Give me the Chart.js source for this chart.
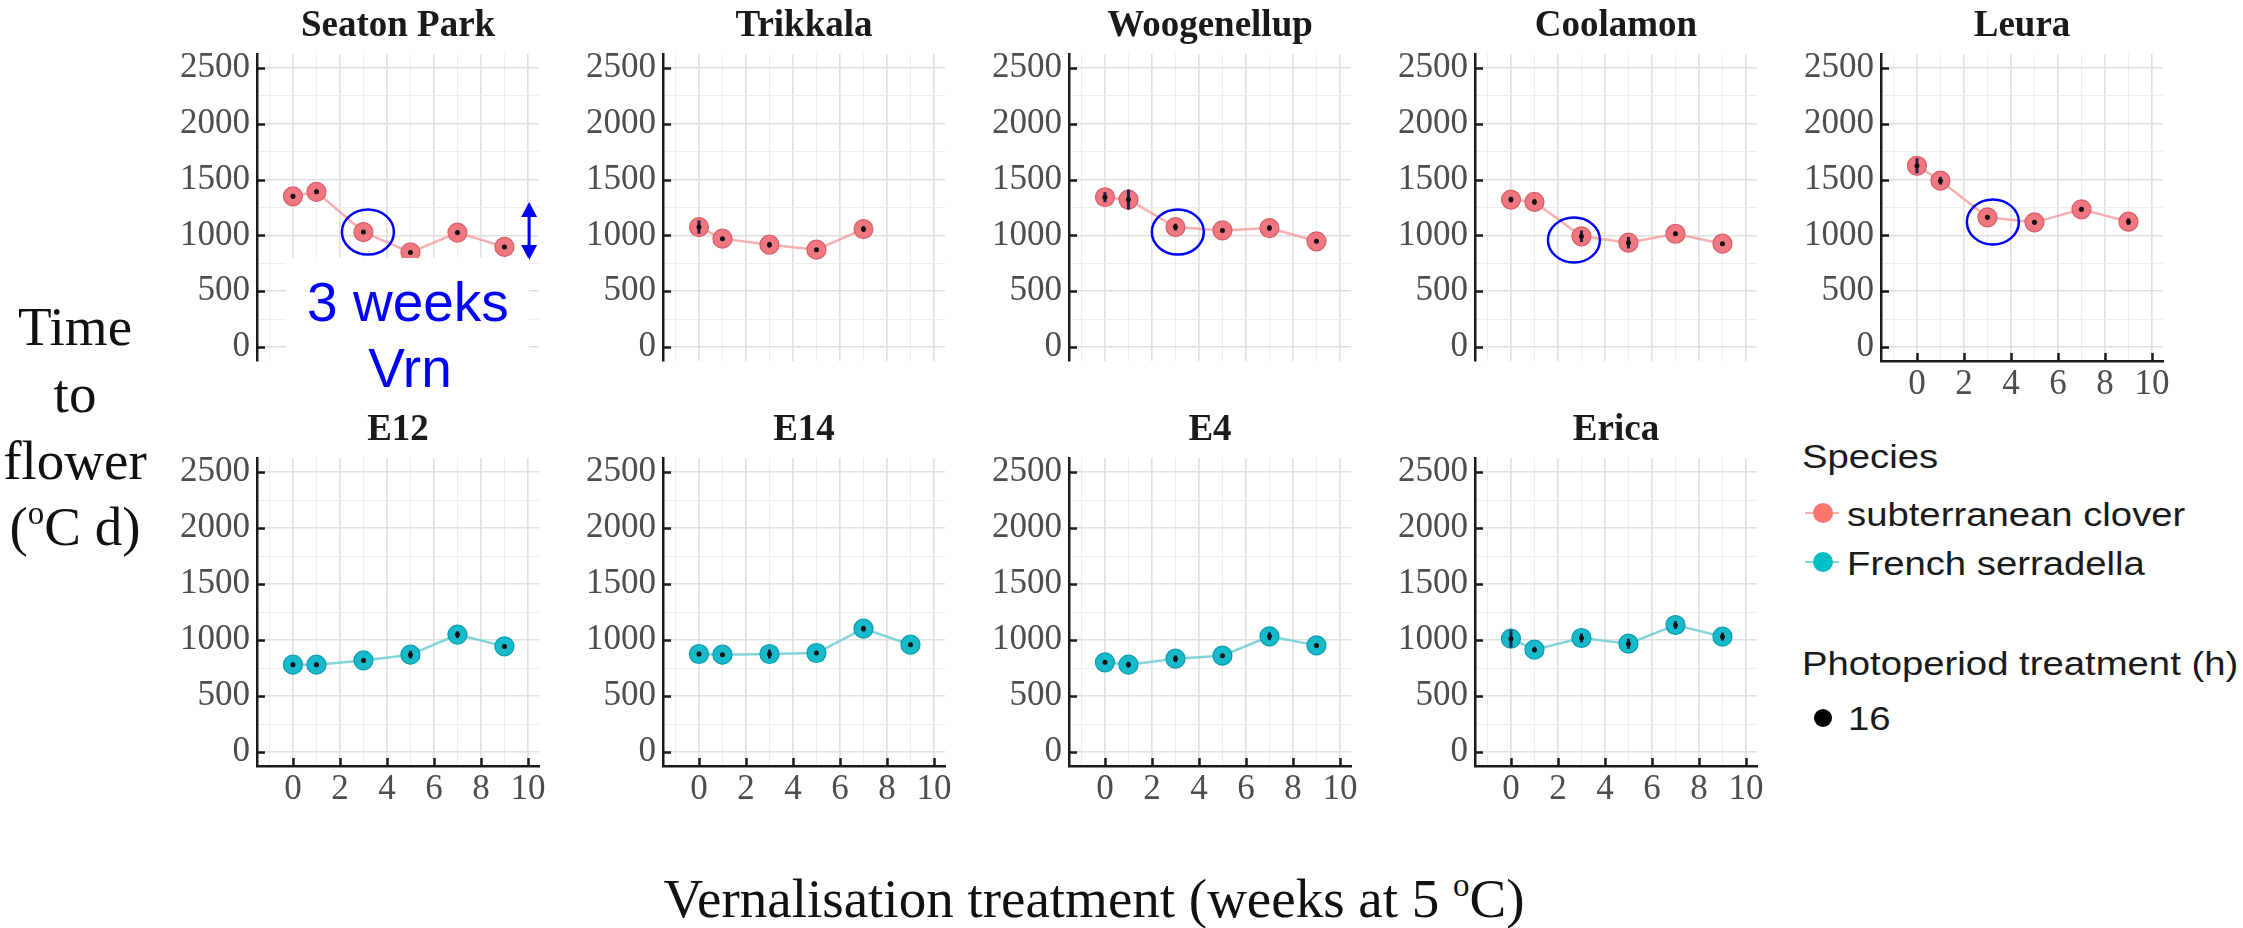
<!DOCTYPE html>
<html>
<head>
<meta charset="utf-8">
<script src="https://cdn.jsdelivr.net/npm/chart.js@4.4.0/dist/chart.umd.min.js"></script>
<style>
html, body { margin: 0; padding: 0; background: #fff; }
#page { position: relative; width: 2243px; height: 928px; overflow: hidden; background: #fff; }
#page canvas { position: absolute; }
.txt { position: absolute; white-space: nowrap; color: #111; }
.sup { font-size: 0.6em; position: relative; top: -0.62em; }
</style>
</head>
<body>
<div id="page"></div>
<script>
// vernalisation weeks at 5 oC (x values)
var weeks = [0, 1, 3, 5, 7, 9];
var panelNames = ["Seaton Park", "Trikkala", "Woogenellup", "Coolamon", "Leura", "E12", "E14", "E4", "Erica"];
var speciesNames = ["subterranean clover", "French serradella"];
var panelSpecies = [0, 0, 0, 0, 0, 1, 1, 1, 1];
var photoperiods = ["16"];

// time to flower (oC d)
var seatonPark  = [1350, 1390, 1030, 848, 1025, 897];
var trikkala    = [1075, 971, 917, 872, 1057];
var woogenellup = [1342, 1321, 1075, 1045, 1066, 947];
var coolamon    = [1321, 1300, 992, 935, 1015, 926];
var leura       = [1624, 1490, 1162, 1117, 1234, 1123];
var e12         = [780, 780, 818, 869, 1048, 943];
var e14         = [875, 869, 875, 884, 1101, 958];
var e4          = [801, 780, 833, 860, 1033, 952];
var erica       = [1012, 914, 1018, 967, 1134, 1030];

// half length of the error bars
var seatonParkErr  = [20, 20, 15, 15, 15, 10];
var trikkalaErr    = [60, 15, 25, 10, 25];
var woogenellupErr = [45, 90, 30, 10, 25, 15];
var coolamonErr    = [25, 25, 52, 52, 20, 15];
var leuraErr       = [67, 35, 20, 20, 20, 30];
var e12Err         = [20, 20, 20, 35, 30, 20];
var e14Err         = [20, 15, 40, 15, 25, 10];
var e4Err          = [10, 25, 30, 15, 35, 15];
var ericaErr       = [80, 25, 40, 45, 35, 35];

var panelValues = [seatonPark, trikkala, woogenellup, coolamon, leura, e12, e14, e4, erica];
var panelErrors = [seatonParkErr, trikkalaErr, woogenellupErr, coolamonErr, leuraErr, e12Err, e14Err, e4Err, ericaErr];

// tick values and labels (odd weeks and 250s are minor grid lines)
var xTicks = [-1, 0, 1, 2, 3, 4, 5, 6, 7, 8, 9, 10];
var xTickLabels = ["", "0", "", "2", "", "4", "", "6", "", "8", "", "10"];
var yTicks = [0, 250, 500, 750, 1000, 1250, 1500, 1750, 2000, 2250, 2500];
var yTickLabels = ["0", "", "500", "", "1000", "", "1500", "", "2000", "", "2500"];

// circled 3 week points and the range arrow
var rings = {"Seaton Park": [3.19, 1030], "Woogenellup": [3.1, 1030], "Coolamon": [2.68, 959], "Leura": [3.23, 1120]};
var rangeArrow = {"Seaton Park": [10.05, 1300, 780]};

var fills = ["#F0767F", "#17BACA"];
var rims = ["#D65F6B", "#0A9CB0"];
var lines = ["rgba(244,150,150,0.75)", "rgba(110,205,212,0.85)"];

var axisLeft = [257, 663, 1069, 1475, 1881];
var rowTop = [0, 404];
var page = document.getElementById("page");

var panelMarks = {
    id: "panelMarks",
    afterDatasetDraw: function(chart, args, opts) {
        if (args.index !== 0) return;
        var ctx = chart.ctx, xs = chart.scales.x, ys = chart.scales.y;
        var vals = chart.data.datasets[0].data;
        ctx.save();
        ctx.strokeStyle = "#22204a";
        ctx.lineWidth = 3;
        for (var i = 0; i < vals.length; i++) {
            var px = xs.getPixelForValue(vals[i].x);
            ctx.beginPath();
            ctx.moveTo(px, ys.getPixelForValue(vals[i].y - opts.errors[i]));
            ctx.lineTo(px, ys.getPixelForValue(vals[i].y + opts.errors[i]));
            ctx.stroke();
        }
        ctx.restore();
    },
    afterDraw: function(chart, args, opts) {
        var ctx = chart.ctx, xs = chart.scales.x, ys = chart.scales.y, a = chart.chartArea;
        ctx.save();
        ctx.strokeStyle = "#1a1a1a";
        ctx.lineWidth = 2.5;
        // ticks drawn inward from the axis lines
        for (var i = 0; i < yTicks.length; i++) {
            if (!yTickLabels[i]) continue;
            var py = Math.round(ys.getPixelForValue(yTicks[i])) + 0.5;
            ctx.beginPath(); ctx.moveTo(a.left, py); ctx.lineTo(a.left + 8, py); ctx.stroke();
        }
        if (opts.showX) {
            for (var j = 0; j < xTicks.length; j++) {
                if (!xTickLabels[j]) continue;
                var px = Math.round(xs.getPixelForValue(xTicks[j])) + 0.5;
                ctx.beginPath(); ctx.moveTo(px, a.bottom); ctx.lineTo(px, a.bottom - 8); ctx.stroke();
            }
        }
        ctx.strokeStyle = "#0000FF";
        ctx.fillStyle = "#0000FF";
        if (opts.ring) {
            ctx.lineWidth = 2.5;
            ctx.beginPath();
            ctx.ellipse(xs.getPixelForValue(opts.ring[0]), ys.getPixelForValue(opts.ring[1]), 26, 22.5, 0, 0, Math.PI * 2);
            ctx.stroke();
        }
        if (opts.arrow) {
            var ax = xs.getPixelForValue(opts.arrow[0]);
            var y1 = ys.getPixelForValue(opts.arrow[1]), y2 = ys.getPixelForValue(opts.arrow[2]);
            ctx.lineWidth = 3;
            ctx.beginPath(); ctx.moveTo(ax, y1 + 10); ctx.lineTo(ax, y2 - 10); ctx.stroke();
            ctx.beginPath(); ctx.moveTo(ax, y1); ctx.lineTo(ax - 8, y1 + 15); ctx.lineTo(ax + 8, y1 + 15); ctx.closePath(); ctx.fill();
            ctx.beginPath(); ctx.moveTo(ax, y2); ctx.lineTo(ax - 8, y2 - 15); ctx.lineTo(ax + 8, y2 - 15); ctx.closePath(); ctx.fill();
        }
        ctx.restore();
    }
};

function gridColor(labels) {
    return function(c) { return labels[c.index] ? "#E0E0E0" : "#EDEDED"; };
}
function gridWidth(labels) {
    return function(c) { return labels[c.index] ? 1.6 : 1; };
}

function createPanel(i) {
    var col = i < 5 ? i : i - 5;
    var row = i < 5 ? 0 : 1;
    var showX = i >= 4;
    var sp = panelSpecies[i];
    var vals = panelValues[i];
    var pts = [];
    for (var k = 0; k < vals.length; k++) pts.push({x: weeks[k], y: vals[k]});

    var canvas = document.createElement("canvas");
    canvas.width = 384;
    canvas.height = row === 0 ? 411 : 412;
    canvas.style.left = (axisLeft[col] - 90) + "px";
    canvas.style.top = rowTop[row] + "px";
    page.appendChild(canvas);

    return new Chart(canvas, {
        type: "line",
        data: {
            datasets: [{
                label: speciesNames[sp],
                data: pts,
                order: 1,
                borderColor: lines[sp],
                borderWidth: 2.5,
                pointRadius: 9.5,
                pointBackgroundColor: fills[sp],
                pointBorderColor: rims[sp],
                pointBorderWidth: 1.2,
                tension: 0
            }, {
                label: photoperiods[0],
                data: pts,
                order: 0,
                showLine: false,
                pointRadius: 2.5,
                pointBorderWidth: 0,
                pointBackgroundColor: "#111"
            }]
        },
        options: {
            responsive: false,
            animation: false,
            events: [],
            layout: {padding: {left: 0, right: 12, top: 0, bottom: 0}, autoPadding: false},
            plugins: {
                legend: {display: false},
                tooltip: {enabled: false},
                title: {
                    display: true,
                    text: panelNames[i],
                    fullSize: false,
                    color: "#1a1a1a",
                    font: {family: "'Liberation Serif', serif", size: 37, weight: "bold", lineHeight: 1},
                    padding: {top: 8, bottom: 9}
                },
                panelMarks: {
                    errors: panelErrors[i],
                    showX: showX,
                    ring: rings[panelNames[i]],
                    arrow: rangeArrow[panelNames[i]]
                }
            },
            scales: {
                x: {
                    type: "linear",
                    min: -1.53,
                    max: 10.47,
                    afterBuildTicks: function(s) { s.ticks = xTicks.map(function(v) { return {value: v}; }); },
                    afterFit: function(s) { s.height = 50; },
                    grid: {color: gridColor(xTickLabels), lineWidth: gridWidth(xTickLabels), drawTicks: false},
                    border: {display: showX, color: "#1a1a1a", width: 2.5},
                    ticks: {
                        display: showX,
                        autoSkip: false,
                        maxRotation: 0,
                        padding: 3,
                        color: "#4d4d4d",
                        font: {family: "'Liberation Serif', serif", size: 35},
                        callback: function(v, idx) { return xTickLabels[idx]; }
                    }
                },
                y: {
                    min: -125,
                    max: 2625,
                    afterBuildTicks: function(s) { s.ticks = yTicks.map(function(v) { return {value: v}; }); },
                    afterFit: function(s) { s.width = 90; },
                    grid: {color: gridColor(yTickLabels), lineWidth: gridWidth(yTickLabels), drawTicks: false},
                    border: {display: true, color: "#1a1a1a", width: 2.5},
                    ticks: {
                        autoSkip: false,
                        padding: 7,
                        color: "#4d4d4d",
                        font: {family: "'Liberation Serif', serif", size: 35},
                        callback: function(v, idx) { return yTickLabels[idx]; }
                    }
                }
            }
        },
        plugins: [panelMarks]
    });
}

/**
 * put a line of text so that its baseline lands on y
 */
function addText(html, x, baseline, size, opts) {
    opts = opts || {};
    var el = document.createElement("div");
    el.className = "txt";
    el.innerHTML = html;
    el.style.fontFamily = opts.serif ? "'Liberation Serif', serif" : "'Liberation Sans', Arial, sans-serif";
    el.style.fontSize = size + "px";
    el.style.lineHeight = size + "px";
    el.style.top = (baseline - (opts.serif ? 0.8375 : 0.8465) * size) + "px";
    if (opts.center) {
        el.style.left = (x - 600) + "px";
        el.style.width = "1200px";
        el.style.textAlign = "center";
    } else {
        el.style.left = x + "px";
    }
    if (opts.color) el.style.color = opts.color;
    if (opts.stretch) {
        el.style.transform = "scaleX(" + opts.stretch + ")";
        el.style.transformOrigin = "left center";
    }
    page.appendChild(el);
    return el;
}

function addBox(x, y, w, h, css) {
    var el = document.createElement("div");
    el.style.position = "absolute";
    el.style.left = x + "px";
    el.style.top = y + "px";
    el.style.width = w + "px";
    el.style.height = h + "px";
    for (var k in css) el.style[k] = css[k];
    page.appendChild(el);
    return el;
}

for (var p = 0; p < panelNames.length; p++) createPanel(p);

// axis titles
addText("Time", 75, 345, 55, {serif: true, center: true});
addText("to", 75, 412, 55, {serif: true, center: true});
addText("flower", 75, 479, 55, {serif: true, center: true});
addText("(<span class='sup'>o</span>C d)", 75, 545, 55, {serif: true, center: true});
addText("Vernalisation treatment (weeks at 5 <span class='sup'>o</span>C)", 1094, 917, 55, {serif: true, center: true});

// annotation on the first panel
addBox(286, 258, 243, 137, {background: "#fff"});
addText("3 weeks", 408, 322, 55, {center: true, color: "#0000FF"});
addText("Vrn", 410, 388, 55, {center: true, color: "#0000FF"});

// legend
var legendKeyY = [513, 562];
addText("Species", 1802, 468, 33, {stretch: 1.16, color: "#1a1a1a"});
for (var s = 0; s < speciesNames.length; s++) {
    addBox(1805, legendKeyY[s] - 1, 34, 2, {background: lines[s]});
    addBox(1813, legendKeyY[s] - 10, 20, 20, {background: s === 0 ? "#F8766D" : "#00BFC4", borderRadius: "50%"});
    addText(speciesNames[s], 1847, legendKeyY[s] + 13, 33, {stretch: 1.16, color: "#1a1a1a"});
}
addText("Photoperiod treatment (h)", 1802, 675, 33, {stretch: 1.16, color: "#1a1a1a"});
addBox(1814, 709, 18, 18, {background: "#000", borderRadius: "50%"});
addText(photoperiods[0], 1848, 730, 33, {stretch: 1.16, color: "#1a1a1a"});
</script>
</body>
</html>
